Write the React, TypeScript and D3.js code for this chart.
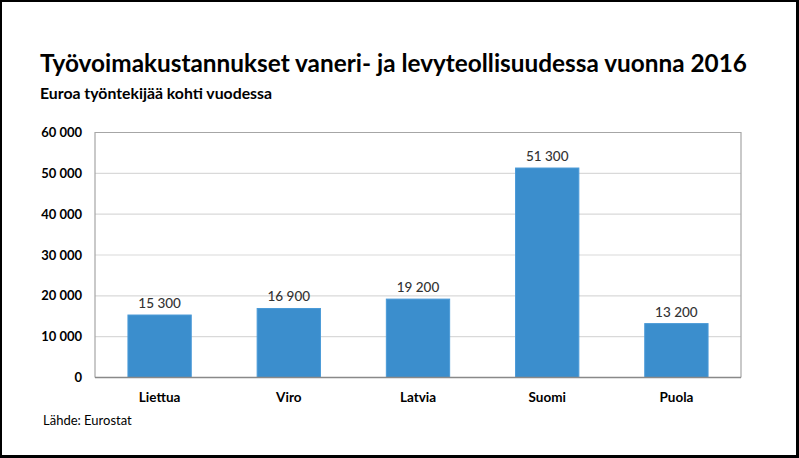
import React from "react";
import * as d3 from "d3";

const categories = ["Liettua", "Viro", "Latvia", "Suomi", "Puola"];
const values = [15300, 16900, 19200, 51300, 13200];
const yTicks = [0, 10000, 20000, 30000, 40000, 50000, 60000];
const title = "Työvoimakustannukset vaneri- ja levyteollisuudessa vuonna 2016";
const subtitle = "Euroa työntekijää kohti vuodessa";
const source = "Lähde: Eurostat";

const W = 799;
const H = 458;
const plot = { left: 95, right: 741, top: 132.5, bottom: 377.5 };

const fmt = (v: number) => d3.format(",")(v).replace(/,/g, " ");

export default function App() {
  const x = d3
    .scaleBand<string>()
    .domain(categories)
    .range([plot.left, plot.right])
    .paddingInner(0.51)
    .paddingOuter(0.255);
  const y = d3.scaleLinear().domain([0, 60000]).range([plot.bottom, plot.top]);
  const font = "Lato, 'Open Sans', sans-serif";

  return (
    <svg
      width={W}
      height={H}
      style={{ position: "absolute", left: 0, top: 0, display: "block" }}
      fontFamily={font}
    >
      <rect x={0} y={0} width={W} height={H} fill="#000" />
      <rect x={2} y={2} width={794} height={453} fill="#fff" />

      <text
        x={40}
        y={71.5}
        fontSize={25}
        fontWeight={700}
        fill="#000"
        textLength={707}
        lengthAdjust="spacingAndGlyphs"
      >
        {title}
      </text>
      <text
        x={40}
        y={99}
        fontSize={15}
        fontWeight={700}
        fill="#000"
        textLength={232}
        lengthAdjust="spacingAndGlyphs"
      >
        {subtitle}
      </text>

      {yTicks.slice(1, -1).map((t) => (
        <line
          key={t}
          x1={plot.left}
          x2={plot.right}
          y1={y(t)}
          y2={y(t)}
          stroke="#d9d9d9"
          strokeWidth={1.2}
        />
      ))}

      <path
        d={`M${plot.left},${plot.bottom} V${plot.top} H${plot.right} V${plot.bottom}`}
        fill="none"
        stroke="#a6a6a6"
        strokeWidth={1.2}
      />

      {categories.map((c, i) => (
        <g key={c}>
          <rect
            x={x(c)}
            y={y(values[i])}
            width={x.bandwidth()}
            height={y(0) - y(values[i])}
            fill="#3b8ecd"
            stroke="#4a9ad8"
            strokeWidth={1}
          />
          <text
            x={(x(c) as number) + x.bandwidth() / 2}
            y={y(values[i]) - 7}
            textAnchor="middle"
            fontSize={13.5}
            fontWeight={500}
            fill="#333"
          >
            {fmt(values[i])}
          </text>
          <text
            x={(x(c) as number) + x.bandwidth() / 2}
            y={401.5}
            textAnchor="middle"
            fontSize={13.5}
            fontWeight={700}
            fill="#000"
          >
            {c}
          </text>
        </g>
      ))}

      <line
        x1={plot.left}
        x2={plot.right}
        y1={plot.bottom}
        y2={plot.bottom}
        stroke="#898989"
        strokeWidth={1.5}
      />

      {yTicks.map((t) => (
        <text
          key={t}
          x={82}
          y={y(t) + 4.5}
          textAnchor="end"
          fontSize={13}
          fontWeight={700}
          fill="#000"
        >
          {fmt(t)}
        </text>
      ))}

      <text x={43} y={425} fontSize={13} fill="#000">
        {source}
      </text>
    </svg>
  );
}
